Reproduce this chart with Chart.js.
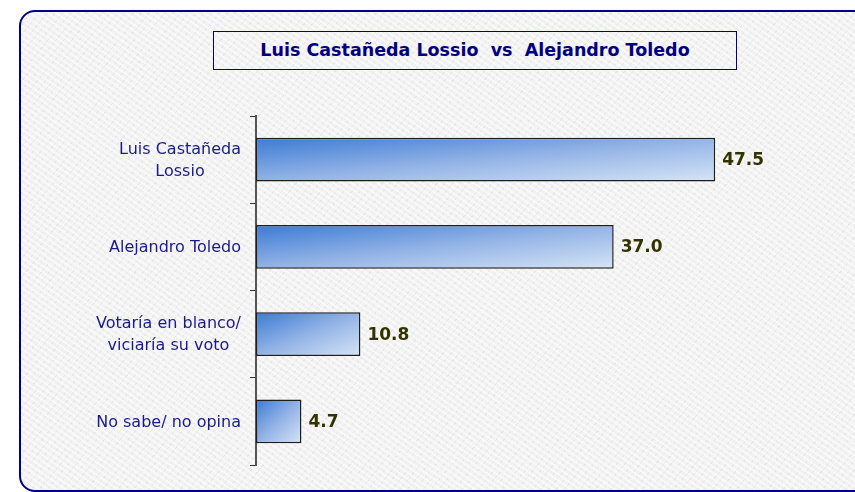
<!DOCTYPE html>
<html>
<head>
<meta charset="utf-8">
<script src="https://cdn.jsdelivr.net/npm/chart.js@4"></script>
<style>
  html, body { margin: 0; padding: 0; background: #ffffff; overflow: hidden; }
  #wrap { position: relative; width: 855px; height: 492px; overflow: hidden; }
  #marco {
    position: absolute; left: 19px; top: 10px; width: 880px; height: 478px;
    border: 2px solid #000080; border-radius: 16px;
    background-color: #f2f2f2;
    background-image:
      repeating-linear-gradient(35deg, rgba(255,255,255,0.55) 0 2px, rgba(0,0,0,0) 2px 5px),
      repeating-linear-gradient(-50deg, rgba(200,200,200,0.25) 0 1px, rgba(0,0,0,0) 1px 6px);
  }
  #titulo {
    position: absolute; left: 213px; top: 31px; width: 522px; height: 37px;
    border: 1.5px solid #000080; background: transparent;
    font: bold 17.5px "DejaVu Sans", Verdana, sans-serif; color: #000080;
    white-space: pre; text-align: center; line-height: 37px;
  }
  canvas { position: absolute; left: 0; top: 0; }
</style>
</head>
<body>
<div id="wrap">
  <div id="marco"></div>
  <div id="titulo">Luis Castañeda Lossio  vs  Alejandro Toledo</div>
  <canvas id="grafico" width="855" height="492"></canvas>
</div>
<script>
// Datos
const categorias = [
  ['Luis Castañeda', 'Lossio'],
  ['Alejandro Toledo'],
  ['Votaría en blanco/', 'viciaría su voto'],
  ['No sabe/ no opina']
];
const valores = [47.5, 37.0, 10.8, 4.7];

// Degradado diagonal (normalizado a la caja de cada barra)
function colorBarra(context) {
  const chart = context.chart;
  if (!chart.chartArea || context.dataIndex === undefined) return '#7fa6e0';
  const x = chart.scales.x, y = chart.scales.y;
  const i = context.dataIndex;
  const x0 = x.getPixelForValue(0);
  const x1 = x.getPixelForValue(valores[i]);
  const paso = y.getPixelForValue(1) - y.getPixelForValue(0);
  const h = paso * 0.5;
  const top = y.getPixelForValue(i) - h / 2;
  const w = x1 - x0;
  const f = 2 * w * h / (w * w + h * h);
  const g = chart.ctx.createLinearGradient(x0, top, x0 + h * f, top + w * f);
  g.addColorStop(0, '#3b7bd4');
  g.addColorStop(0.5, '#93b3e6');
  g.addColorStop(1, '#d6e4f6');
  return g;
}

// Etiquetas de categoría (líneas centradas, bloque alineado a la derecha)
const etiquetasCategoria = {
  id: 'etiquetasCategoria',
  afterDraw(chart) {
    const ctx = chart.ctx;
    const y = chart.scales.y;
    const derecha = chart.chartArea.left - 15;
    const alto = 22;
    ctx.save();
    ctx.font = '16px "DejaVu Sans", Verdana, sans-serif';
    ctx.fillStyle = '#1a1a8a';
    ctx.textBaseline = 'middle';
    ctx.textAlign = 'center';
    categorias.forEach((lineas, i) => {
      const ancho = Math.max(...lineas.map(l => ctx.measureText(l).width));
      const cx = derecha - ancho / 2;
      const yc = y.getPixelForValue(i) + 1;
      lineas.forEach((l, k) => {
        ctx.fillText(l, cx, yc + (k - (lineas.length - 1) / 2) * alto);
      });
    });
    ctx.restore();
  }
};

// Valores al final de las barras
const etiquetasValor = {
  id: 'etiquetasValor',
  afterDatasetsDraw(chart) {
    const ctx = chart.ctx;
    const meta = chart.getDatasetMeta(0);
    ctx.save();
    ctx.font = 'bold 17px "DejaVu Sans", Verdana, sans-serif';
    ctx.fillStyle = '#333300';
    ctx.textBaseline = 'middle';
    ctx.textAlign = 'left';
    meta.data.forEach((bar, i) => {
      ctx.fillText(valores[i].toFixed(1), bar.x + 7, bar.y + 1);
    });
    ctx.restore();
  }
};

new Chart(document.getElementById('grafico'), {
  type: 'bar',
  data: {
    labels: categorias,
    datasets: [{
      data: valores,
      backgroundColor: colorBarra,
      borderColor: '#1e1e1e',
      borderWidth: 1.5,
      borderSkipped: false,
      categoryPercentage: 1.0,
      barPercentage: 0.5
    }]
  },
  options: {
    indexAxis: 'y',
    responsive: false,
    animation: false,
    layout: { padding: { top: 116, bottom: 27, left: 0, right: 19 } },
    plugins: { legend: { display: false }, title: { display: false }, tooltip: { enabled: false } },
    scales: {
      x: { display: false, min: 0, max: 60 },
      y: {
        ticks: { display: false },
        grid: { drawOnChartArea: false, tickLength: 6, color: '#333333', lineWidth: 1 },
        border: { display: true, color: '#555555', width: 2 },
        afterFit(scale) { scale.width = 256; }
      }
    }
  },
  plugins: [etiquetasCategoria, etiquetasValor]
});
</script>
</body>
</html>
